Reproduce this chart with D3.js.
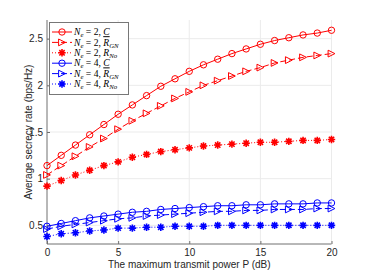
<!DOCTYPE html>
<html>
<head>
<meta charset="utf-8">
<script src="https://cdn.jsdelivr.net/npm/d3@7.9.0/dist/d3.min.js"></script>
<style>
  body { margin: 0; background: #fff; }
  svg { display: block; font-family: "Liberation Sans", Arial, sans-serif; }
  .tick text { fill: #262626; font-size: 10px; }
</style>
</head>
<body>
<svg id="chart" width="366" height="274"></svg>
<script>
// Data
const power = d3.range(0, 21); // 0..20 dB
const ne2C = [1.14, 1.25, 1.36, 1.47, 1.58, 1.69, 1.79, 1.89, 1.99, 2.07, 2.15,
              2.22, 2.28, 2.34, 2.39, 2.44, 2.48, 2.51, 2.54, 2.56, 2.59];
const ne2Rgn = [1.04, 1.14, 1.24, 1.34, 1.43, 1.53, 1.62, 1.70, 1.78, 1.86, 1.93,
                2.00, 2.05, 2.10, 2.15, 2.19, 2.24, 2.27, 2.30, 2.32, 2.34];
const ne2Rno = [0.92, 0.98, 1.04, 1.09, 1.14, 1.18, 1.23, 1.26, 1.29, 1.31, 1.33,
                1.35, 1.36, 1.37, 1.38, 1.39, 1.39, 1.40, 1.41, 1.41, 1.42];
const ne4C = [0.49, 0.52, 0.55, 0.58, 0.60, 0.62, 0.64, 0.65, 0.67, 0.68, 0.69,
              0.70, 0.71, 0.71, 0.72, 0.72, 0.73, 0.73, 0.73, 0.74, 0.74];
const ne4Rgn = [0.46, 0.49, 0.51, 0.53, 0.55, 0.57, 0.58, 0.60, 0.61, 0.62, 0.63,
                0.64, 0.65, 0.65, 0.66, 0.66, 0.67, 0.67, 0.67, 0.68, 0.68];
const ne4Rno = [0.38, 0.41, 0.42, 0.44, 0.45, 0.47, 0.47, 0.48, 0.48, 0.49, 0.49,
                0.49, 0.50, 0.50, 0.50, 0.50, 0.50, 0.50, 0.50, 0.50, 0.50];
const xTicks = [0, 5, 10, 15, 20];
const yTicks = [0.5, 1, 1.5, 2, 2.5];

const series = [
  { ne: 2, sym: 'C', values: ne2C, color: '#ff0000', dash: null, marker: 'circle' },
  { ne: 2, sym: 'GN', values: ne2Rgn, color: '#ff0000', dash: '6,3', marker: 'tri' },
  { ne: 2, sym: 'No', values: ne2Rno, color: '#ff0000', dash: '1,2', marker: 'star' },
  { ne: 4, sym: 'C', values: ne4C, color: '#0000ff', dash: null, marker: 'circle' },
  { ne: 4, sym: 'GN', values: ne4Rgn, color: '#0000ff', dash: '6,3', marker: 'tri' },
  { ne: 4, sym: 'No', values: ne4Rno, color: '#0000ff', dash: '1,2', marker: 'star' },
];

const svg = d3.select('#chart');
const mLeft = 47, mRight = 331.5, mTop = 20, mBottom = 244;

const x = d3.scaleLinear().domain([0, 20]).range([mLeft, mRight]);
const y = d3.scaleLinear().domain([0.3, 2.7]).range([mBottom, mTop]);

// grid
svg.append('g')
  .selectAll('line')
  .data(xTicks.slice(1))
  .join('line')
  .attr('x1', d => x(d)).attr('x2', d => x(d))
  .attr('y1', mTop).attr('y2', mBottom)
  .attr('stroke', '#ebebeb').attr('stroke-width', 1);
svg.append('g')
  .selectAll('line')
  .data(yTicks)
  .join('line')
  .attr('x1', mLeft).attr('x2', mRight)
  .attr('y1', d => y(d)).attr('y2', d => y(d))
  .attr('stroke', '#ebebeb').attr('stroke-width', 1);

// axes
const xAxis = svg.append('g')
  .attr('transform', `translate(0,${mBottom})`)
  .call(d3.axisBottom(x).tickValues(xTicks).tickSize(-3).tickPadding(5).tickFormat(d3.format('d')));
const yAxis = svg.append('g')
  .attr('transform', `translate(${mLeft},0)`)
  .call(d3.axisLeft(y).tickValues(yTicks).tickSize(-3).tickPadding(4).tickFormat(d => d));
[xAxis, yAxis].forEach(a => {
  a.select('.domain').attr('stroke', '#707070');
  a.selectAll('.tick line').attr('stroke', '#707070');
});
yAxis.select('.domain').attr('d', `M0,${mBottom}V${mTop}`);
xAxis.select('.domain').attr('d', `M${mLeft},0H${mRight}`);

// axis labels
svg.append('text')
  .attr('x', (mLeft + mRight) / 2).attr('y', 268)
  .attr('text-anchor', 'middle')
  .attr('font-size', 10).attr('fill', '#262626')
  .text('The maximum transmit power P (dB)');
svg.append('text')
  .attr('transform', `translate(32,${(mTop + mBottom) / 2}) rotate(-90)`)
  .attr('text-anchor', 'middle')
  .attr('font-size', 10).attr('fill', '#262626')
  .text('Average secrecy rate (bps/Hz)');

// markers
function drawMarker(g, kind, cx, cy, color) {
  if (kind === 'circle') {
    g.append('circle').attr('cx', cx).attr('cy', cy).attr('r', 3.2)
      .attr('fill', 'none').attr('stroke', color).attr('stroke-width', 1);
  } else if (kind === 'tri') {
    const s = 3.4;
    g.append('path')
      .attr('d', `M${cx + s},${cy}L${cx - s},${cy - s}L${cx - s},${cy + s}Z`)
      .attr('fill', 'none').attr('stroke', color).attr('stroke-width', 1);
  } else {
    const s = 3.7, d = s * 0.72;
    g.append('path')
      .attr('d', `M${cx - s},${cy}H${cx + s}M${cx},${cy - s}V${cy + s}` +
        `M${cx - d},${cy - d}L${cx + d},${cy + d}M${cx - d},${cy + d}L${cx + d},${cy - d}`)
      .attr('stroke', color).attr('stroke-width', 1.6);
  }
}

const line = d3.line().x((d, i) => x(power[i])).y(d => y(d));
series.forEach(s => {
  const g = svg.append('g');
  g.append('path')
    .attr('d', line(s.values))
    .attr('fill', 'none').attr('stroke', s.color).attr('stroke-width', 1)
    .attr('stroke-dasharray', s.dash);
  s.values.forEach((v, i) => drawMarker(g, s.marker, x(power[i]), y(v), s.color));
});

// legend
const lg = svg.append('g');
lg.append('rect')
  .attr('x', 49.5).attr('y', 22.5).attr('width', 79).attr('height', 72)
  .attr('fill', '#fff').attr('stroke', '#777').attr('stroke-width', 1);
series.forEach((s, i) => {
  const ly = 32 + i * 10.4;
  lg.append('line')
    .attr('x1', 52).attr('x2', 72).attr('y1', ly).attr('y2', ly)
    .attr('stroke', s.color).attr('stroke-width', 1)
    .attr('stroke-dasharray', s.dash);
  drawMarker(lg, s.marker, 62, ly, s.color);
  const t = lg.append('text')
    .attr('x', 74).attr('y', ly + 3.2)
    .attr('font-family', '"Liberation Serif", "DejaVu Serif", serif')
    .attr('font-size', 9.6).attr('fill', '#000');
  t.append('tspan').attr('font-style', 'italic').text('N');
  t.append('tspan').attr('font-style', 'italic').attr('font-size', 6.8).attr('dy', 2).text('e');
  t.append('tspan').attr('dy', -2).text(` = ${s.ne}, `);
  if (s.sym === 'C') {
    t.append('tspan').attr('font-style', 'italic').attr('text-decoration', 'underline').text('C');
  } else {
    t.append('tspan').attr('font-style', 'italic').text('R');
    t.append('tspan').attr('font-style', 'italic').attr('font-size', 6.8).attr('dy', 2).text(s.sym);
  }
});
</script>
</body>
</html>
